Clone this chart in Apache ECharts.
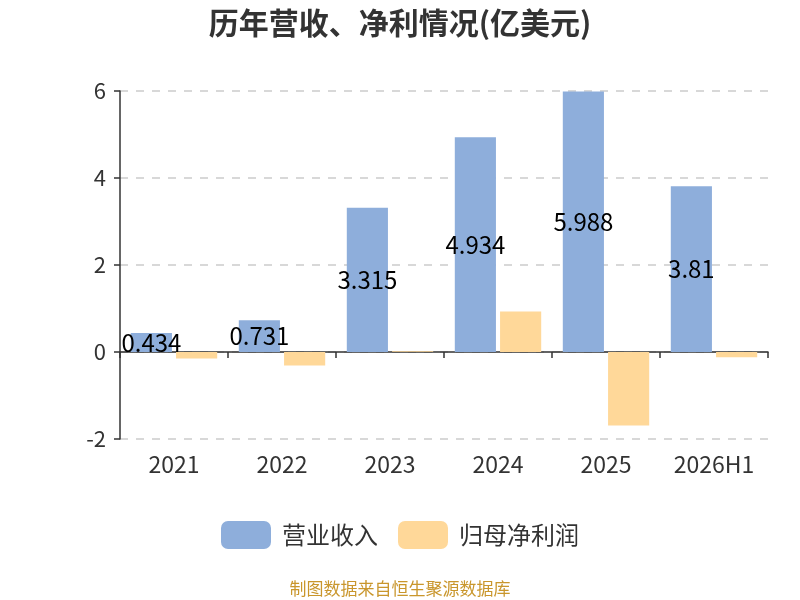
<!DOCTYPE html>
<html lang="zh">
<head>
<meta charset="UTF-8">
<title>历年营收、净利情况</title>
<script src="https://cdn.jsdelivr.net/npm/echarts@6/dist/echarts.min.js"></script>
<style>
  html, body { margin: 0; padding: 0; background: #fff; }
  #chart { width: 800px; height: 600px; }
</style>
</head>
<body>
<div id="chart"></div>
<script>
var years = ['2021', '2022', '2023', '2024', '2025', '2026H1'];
var revenue = [0.434, 0.731, 3.315, 4.934, 5.988, 3.81];
var netProfit = [-0.15, -0.31, 0.02, 0.93, -1.69, -0.12];
var yTicks = { min: -2, max: 6, interval: 2 };

var font = '"Noto Sans CJK SC", "Noto Sans", sans-serif';
var chart = echarts.init(document.getElementById('chart'));

chart.setOption({
  animation: false,
  textStyle: { fontFamily: font },
  title: {
    text: '历年营收、净利情况(亿美元)',
    left: 'center',
    top: 3,
    textStyle: { fontSize: 30, fontWeight: 'bold', color: '#333', fontFamily: font }
  },
  grid: { left: 120, right: 32, top: 91, bottom: 161 },
  legend: {
    bottom: 46,
    left: 'center',
    itemWidth: 50,
    itemHeight: 28,
    itemGap: 20,
    textStyle: { fontSize: 24, color: '#333', fontFamily: font, padding: [0, 0, 0, 6] },
    data: ['营业收入', '归母净利润']
  },
  graphic: [{
    type: 'text',
    left: 'center',
    top: 580,
    style: { text: '制图数据来自恒生聚源数据库', fill: '#c9962c', fontSize: 17, fontFamily: font }
  }],
  xAxis: {
    type: 'category',
    data: years,
    axisLine: { onZero: true, lineStyle: { color: '#333', width: 1.5 } },
    axisTick: { show: true, length: 6, lineStyle: { color: '#333', width: 1.5 } },
    axisLabel: { fontSize: 23, color: '#333', margin: 14, fontFamily: font }
  },
  yAxis: {
    type: 'value',
    min: yTicks.min,
    max: yTicks.max,
    interval: yTicks.interval,
    axisLine: { show: true, lineStyle: { color: '#333', width: 1.5 } },
    axisTick: { show: true, length: 6, lineStyle: { color: '#333', width: 1.5 } },
    axisLabel: { fontSize: 22, color: '#333', margin: 14, fontFamily: font },
    splitLine: { lineStyle: { color: '#ccc', type: [8, 8], width: 1.5 } }
  },
  series: [{
    name: '营业收入',
    type: 'bar',
    data: revenue,
    barCategoryGap: '20%',
    barGap: '10%',
    itemStyle: { color: '#8eaedb' },
    label: { show: true, position: 'inside', color: '#000', fontSize: 24, fontFamily: font }
  }, {
    name: '归母净利润',
    type: 'bar',
    data: netProfit,
    itemStyle: { color: '#ffd899' }
  }]
});
</script>
</body>
</html>
